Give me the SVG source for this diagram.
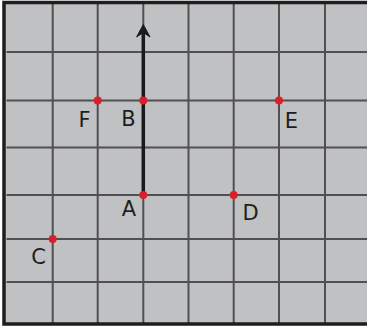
<svg xmlns="http://www.w3.org/2000/svg" width="367" height="327" viewBox="0 0 367 327">
<style>
.grid{stroke:#505052;stroke-width:2;fill:none}
.border{stroke:#1e1e1e;stroke-width:3.5;fill:none}
.pt{fill:#d8202a}
.lbl{font-family:"DejaVu Sans",sans-serif;font-size:21px;fill:#1e1e1e;text-anchor:middle}
</style>
<rect x="0" y="0" width="367" height="327" fill="#ffffff"/>
<rect x="4" y="3" width="363" height="321" fill="#c0c1c3"/>
<g id="grid" class="grid">
<line x1="52.7" y1="3" x2="52.7" y2="323"/>
<line x1="97.7" y1="3" x2="97.7" y2="323"/>
<line x1="143.3" y1="3" x2="143.3" y2="323"/>
<line x1="188.5" y1="3" x2="188.5" y2="323"/>
<line x1="233.7" y1="3" x2="233.7" y2="323"/>
<line x1="279" y1="3" x2="279" y2="323"/>
<line x1="325" y1="3" x2="325" y2="323"/>
<line x1="6.5" y1="52" x2="367" y2="52"/>
<line x1="6.5" y1="100.5" x2="367" y2="100.5"/>
<line x1="6.5" y1="147.5" x2="367" y2="147.5"/>
<line x1="6.5" y1="195" x2="367" y2="195"/>
<line x1="6.5" y1="239" x2="367" y2="239"/>
<line x1="6.5" y1="282" x2="367" y2="282"/>
</g>
<g id="frame" class="border">
<polyline points="367,2.5 4,2.5 4,324 367,324"/>
</g>
<g id="connectors">
<line x1="143.3" y1="195" x2="143.3" y2="31" stroke="#1a1a1a" stroke-width="3.5"/>
<path d="M143.3,24.5 L150,37 L143.3,32.5 L136.6,37 Z" fill="#1a1a1a" stroke="#1a1a1a" stroke-width="1" stroke-linejoin="round"/>
</g>
<g id="node-F"><circle class="pt" cx="97.7" cy="100.5" r="4"/><text class="lbl" x="84.5" y="127">F</text></g>
<g id="node-B"><circle class="pt" cx="143.3" cy="100.5" r="4"/><text class="lbl" x="128.5" y="126">B</text></g>
<g id="node-E"><circle class="pt" cx="279" cy="100.5" r="4"/><text class="lbl" x="291.5" y="128">E</text></g>
<g id="node-A"><circle class="pt" cx="143.3" cy="195" r="4"/><text class="lbl" x="129" y="216">A</text></g>
<g id="node-D"><circle class="pt" cx="233.7" cy="195" r="4"/><text class="lbl" x="250.5" y="220">D</text></g>
<g id="node-C"><circle class="pt" cx="52.7" cy="239" r="4"/><text class="lbl" x="38.5" y="264">C</text></g>
</svg>
